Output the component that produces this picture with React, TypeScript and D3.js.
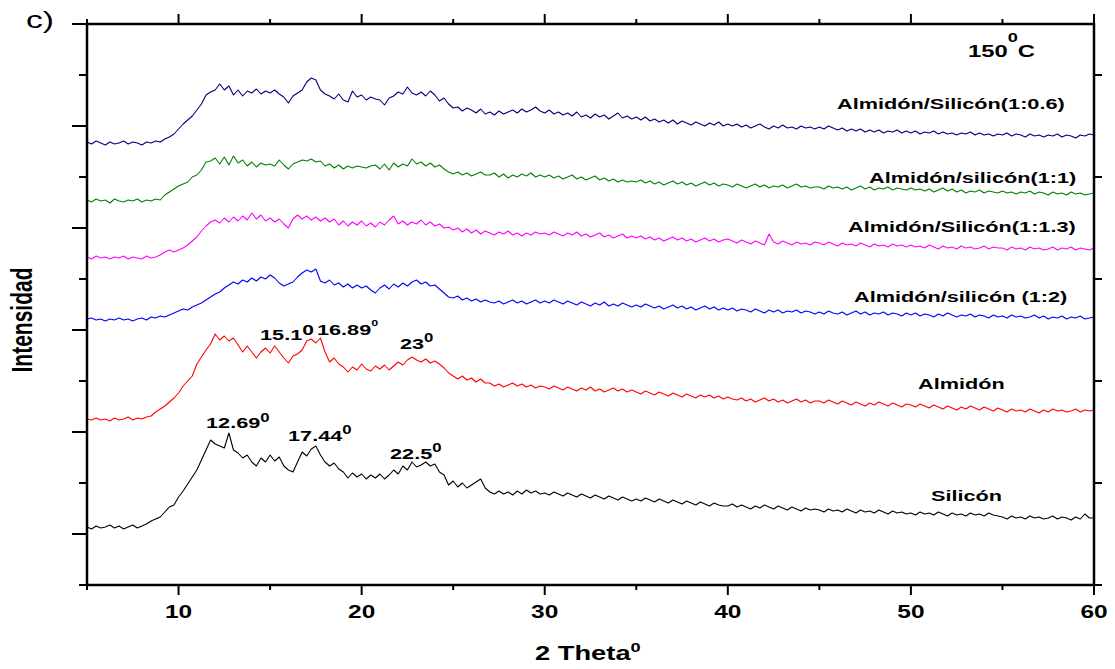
import React from 'react';
import * as d3 from 'd3';

// 2θ grid: 5° to 60° in 0.25° steps (221 points)
const twoTheta: number[] = d3.range(0, 221).map((i) => 5 + i * 0.25);

// Intensities (a.u., stacked as in the original figure), one row = 5°
const almidonSilicon06 = [
  443,441,444,442,440,443,441,442,444,441,443,442,440,443,442,444,443,446,448,451,
  456,461,465,469,475,481,490,493,495,501,495,499,490,495,489,494,492,496,491,494,
  492,495,491,488,482,489,492,495,503,507,505,495,491,489,486,491,485,483,494,488,
  490,485,488,486,485,480,487,489,493,491,498,492,490,493,489,494,490,484,487,481,
  477,478,474,477,475,472,476,471,473,470,474,471,473,475,472,476,473,475,478,474,
  472,475,471,473,470,472,469,473,468,470,467,471,468,470,466,469,472,467,469,466,
  468,465,468,464,466,463,465,462,465,461,464,462,460,463,461,459,462,460,463,459,
  461,459,461,458,460,457,459,461,458,456,459,457,460,457,458,456,459,457,458,456,
  458,456,459,457,455,457,454,456,454,456,453,455,453,455,452,454,453,455,452,454,
  452,454,451,453,452,454,451,453,451,452,450,452,451,453,450,452,450,451,449,451,
  450,452,449,451,450,448,451,449,450,448,450,449,451,448,450,449,447,450,449,451,
  450,
];
const almidonSilicon11 = [
  385,383,386,384,385,382,386,384,383,385,384,386,383,385,384,386,385,390,393,396,
  399,401,403,408,410,415,423,424,427,421,428,420,429,422,425,419,423,418,422,420,
  421,419,425,420,416,421,423,425,424,426,423,424,419,421,417,420,416,419,417,419,
  418,417,419,420,416,421,415,422,418,421,419,426,421,423,419,422,418,420,416,413,
  411,413,410,412,409,411,413,410,410,412,408,411,407,410,408,411,409,412,408,410,
  408,410,407,409,406,408,410,406,408,405,407,409,405,407,404,406,403,405,403,404,
  403,405,402,404,401,403,400,402,404,401,403,400,402,399,401,403,400,402,399,401,
  400,398,401,399,397,399,401,398,400,397,399,398,400,397,399,401,398,399,397,398,
  398,396,399,397,398,396,398,395,397,399,396,398,395,397,396,398,395,397,396,395,
  397,395,396,394,396,393,395,397,394,396,393,395,392,394,393,395,392,394,393,392,
  394,392,393,391,393,392,394,391,393,392,390,393,391,392,390,393,391,392,390,391,
  392,
];
const almidonSilicon113 = [
  328,326,329,327,328,326,328,327,329,326,328,327,326,329,327,328,330,333,335,333,
  335,337,340,344,348,354,359,363,365,362,367,363,368,364,369,365,372,366,370,364,
  367,363,366,361,357,366,370,366,369,365,368,364,367,363,366,360,364,359,363,360,
  364,359,362,358,363,360,365,369,361,364,360,363,361,365,360,363,359,361,357,358,
  355,357,353,356,352,355,351,354,352,350,353,351,354,350,352,349,352,350,353,351,
  352,350,353,351,349,352,350,353,349,351,348,350,352,348,350,347,349,351,347,349,
  347,349,346,348,345,347,344,346,348,345,347,344,346,343,345,347,344,346,343,345,
  346,344,342,345,343,341,344,342,340,351,343,341,344,342,340,343,341,342,340,343,
  342,340,343,341,339,342,340,341,339,342,340,338,341,339,340,338,341,339,340,338,
  340,338,339,337,340,338,336,339,337,338,336,339,337,338,336,337,339,336,338,337,
  337,335,338,336,337,335,338,336,337,335,336,338,335,337,336,338,335,337,336,335,
  337,
];
const almidonSilicon12 = [
  266,267,265,266,264,266,265,267,265,266,264,266,267,265,268,267,269,268,270,272,
  274,276,275,278,280,282,285,288,291,293,297,300,303,301,305,303,307,304,308,306,
  310,307,302,299,301,303,308,312,315,313,316,304,302,305,300,302,298,301,297,300,
  297,299,295,292,297,300,296,301,298,302,299,303,305,301,303,299,300,296,292,288,
  287,289,285,287,284,286,283,285,283,282,284,281,283,285,282,284,281,283,285,282,
  284,282,285,283,281,284,282,280,283,281,279,282,280,283,279,281,279,282,280,278,
  280,278,281,279,277,279,276,278,280,277,279,276,278,275,277,279,276,278,275,277,
  275,277,274,276,275,273,276,274,272,275,273,275,272,274,273,275,272,274,273,271,
  273,271,274,272,271,273,270,272,274,271,273,270,272,271,273,270,272,271,269,272,
  270,272,269,271,270,268,271,269,272,270,268,270,269,271,268,270,269,267,270,268,
  269,267,270,268,269,267,268,270,267,269,266,268,267,269,266,268,267,269,266,267,
  268,
];
const almidon = [
  166,165,167,165,166,164,167,165,166,168,165,167,166,168,169,173,176,179,183,187,
  192,199,204,209,221,228,235,241,251,245,249,244,247,240,233,239,233,227,233,237,
  232,239,233,227,222,229,231,235,244,246,242,247,233,223,227,221,218,213,218,215,
  221,216,214,219,216,220,215,219,223,220,225,228,225,223,226,222,224,221,217,212,
  209,206,209,205,207,203,206,202,202,199,201,198,200,202,199,201,198,200,197,199,
  198,196,199,197,195,198,196,194,197,195,198,194,196,193,195,197,194,196,193,195,
  193,191,194,192,190,193,191,189,192,190,188,191,189,187,190,188,190,187,189,186,
  188,186,185,187,184,186,183,185,187,184,186,183,185,182,184,186,183,185,182,184,
  184,182,185,183,181,184,182,180,183,181,179,182,180,183,181,179,182,180,178,181,
  180,178,181,179,177,180,178,176,179,177,175,178,176,179,177,175,178,176,174,177,
  175,173,176,174,175,173,176,174,172,175,173,176,174,175,173,174,176,173,175,174,
  175,
];
const silicon = [
  58,56,59,57,58,60,57,59,56,58,60,57,59,61,64,66,68,73,78,80,
  88,94,101,108,115,125,135,145,141,139,137,152,135,132,127,130,123,119,127,123,
  130,124,128,119,115,113,123,133,129,136,139,130,123,119,122,116,113,107,112,108,
  111,106,110,107,111,106,110,115,111,119,115,123,118,120,123,119,121,113,110,100,
  104,98,102,97,100,103,106,97,93,91,94,91,93,90,94,91,95,92,94,91,
  92,90,93,91,89,92,90,88,91,89,87,90,88,86,89,87,85,88,86,84,
  86,84,87,85,83,86,84,82,85,83,81,84,82,80,83,81,79,82,80,79,
  79,81,78,80,78,76,79,77,80,78,76,79,77,75,78,76,74,77,75,76,
  75,73,76,74,75,73,76,74,72,75,73,74,72,75,73,71,74,72,73,71,
  72,70,73,71,72,70,73,71,69,72,70,71,69,72,70,71,69,72,70,69,
  68,66,69,67,68,66,69,67,68,66,67,69,66,68,67,65,68,66,71,67,
  67,
];

const seriesNames = [
  'Almidón/Silicón(1:0.6)',
  'Almidón/silicón(1:1)',
  'Almidón/Silicón(1:1.3)',
  'Almidón/silicón (1:2)',
  'Almidón',
  'Silicón',
];
const seriesValues = [almidonSilicon06, almidonSilicon11, almidonSilicon113, almidonSilicon12, almidon, silicon];
const seriesColors = ['#000080', '#008000', '#FF00FF', '#0000FF', '#FF0000', '#000000'];

const xMajorTicks = [10, 20, 30, 40, 50, 60];
const xMinorTicks = [5, 15, 25, 35, 45, 55];
const yTicks = d3.range(0, 562, 51);

// peak annotations (text, anchor 2θ, anchor intensity)
const peakText = ['12.69', '17.44', '22.5', '23', '15.1', '16.89'];
const peakTheta = [11.5, 15.98, 21.55, 22.09, 14.45, 17.56];
const peakValue = [157, 144, 126, 236, 245, 250];

// ---------- layout & style ----------
const W = 1115;
const H = 669;
const M = { left: 87, right: 1094, top: 24, bottom: 585 };
const FONT = '"Liberation Sans", Arial, Helvetica, sans-serif';
const SX = 1.4; // horizontal stretch of the original figure's text

const labelLayout = [
  { x: 837, y: 109 },
  { x: 869, y: 183 },
  { x: 848, y: 232 },
  { x: 854, y: 302 },
  { x: 918, y: 389 },
  { x: 931, y: 501 },
];
const peakSup = [
  { size: 12, dy: -6 },
  { size: 12, dy: -7 },
  { size: 12, dy: -7 },
  { size: 12, dy: -7 },
  { size: 15, dy: -5 },
  { size: 9, dy: -9 },
];

function SText(props: any) {
  const { x, y, size, weight = 'bold', anchor = 'start', sx = SX, rotate = 0, children } = props;
  const t = `translate(${x},${y}) scale(${sx},1)` + (rotate ? ` rotate(${rotate})` : '');
  return (
    <text transform={t} fontSize={size} fontWeight={weight} textAnchor={anchor} fontFamily={FONT} fill="#000">
      {children}
    </text>
  );
}

export default function App() {
  const x = d3.scaleLinear().domain([5, 60]).range([M.left, M.right]);
  const y = d3.scaleLinear().domain([0, 561]).range([M.bottom, M.top]);
  const line = d3
    .line<number>()
    .x((_, i) => x(twoTheta[i]))
    .y((d) => y(d));

  const tickStroke = { stroke: '#000', strokeWidth: 2 };

  return (
    <svg width={W} height={H} style={{ position: 'absolute', left: 0, top: 0, background: '#fff' }}>
      <rect x={0} y={0} width={W} height={H} fill="#fff" />

      {/* data curves */}
      {seriesValues.map((vals, s) => (
        <path key={s} d={line(vals) || ''} fill="none" stroke={seriesColors[s]} strokeWidth={1.1} strokeLinejoin="round" />
      ))}

      {/* frame */}
      <rect x={M.left} y={M.top} width={M.right - M.left} height={M.bottom - M.top} fill="none" stroke="#000" strokeWidth={2.5} />

      {/* x ticks bottom & top */}
      {xMajorTicks.map((t) => (
        <g key={'xM' + t}>
          <line x1={x(t)} x2={x(t)} y1={M.bottom} y2={M.bottom + 10} {...tickStroke} />
          <line x1={x(t)} x2={x(t)} y1={M.top} y2={M.top - 10} {...tickStroke} />
          <SText x={x(t)} y={618} size={17.5} anchor="middle">{String(t)}</SText>
        </g>
      ))}
      {xMinorTicks.map((t) => (
        <g key={'xm' + t}>
          <line x1={x(t)} x2={x(t)} y1={M.bottom} y2={M.bottom + 5} {...tickStroke} />
          <line x1={x(t)} x2={x(t)} y1={M.top} y2={M.top - 5} {...tickStroke} />
        </g>
      ))}

      {/* y ticks left (alternating long/short) & right (short positions) */}
      {yTicks.map((v, i) => {
        const long = i % 2 === 1;
        return (
          <g key={'y' + v}>
            <line x1={M.left} x2={M.left - (long ? 15 : 8)} y1={y(v)} y2={y(v)} {...tickStroke} />
            {!long && <line x1={M.right} x2={M.right + 8} y1={y(v)} y2={y(v)} {...tickStroke} />}
          </g>
        );
      })}

      {/* series labels */}
      {seriesNames.map((n, s) => (
        <SText key={n} x={labelLayout[s].x} y={labelLayout[s].y} size={15.5}>{n}</SText>
      ))}

      {/* peak annotations */}
      {peakText.map((p, i) => (
        <SText key={p} x={x(peakTheta[i])} y={y(peakValue[i])} size={15.5}>
          {p}
          <tspan fontSize={peakSup[i].size} dy={peakSup[i].dy}>0</tspan>
        </SText>
      ))}

      {/* temperature */}
      <SText x={968} y={57} size={17}>
        150<tspan fontSize={13} dy={-15}>0</tspan><tspan dy={15}>C</tspan>
      </SText>

      {/* panel letter */}
      <SText x={26} y={28} size={24} weight="normal">c)</SText>

      {/* axis titles */}
      <SText x={535} y={660} size={19.5}>
        2 Theta<tspan fontSize={13} dy={-8}>0</tspan>
      </SText>
      <SText x={32} y={320} size={21} anchor="middle" rotate={-90}>Intensidad</SText>
    </svg>
  );
}
